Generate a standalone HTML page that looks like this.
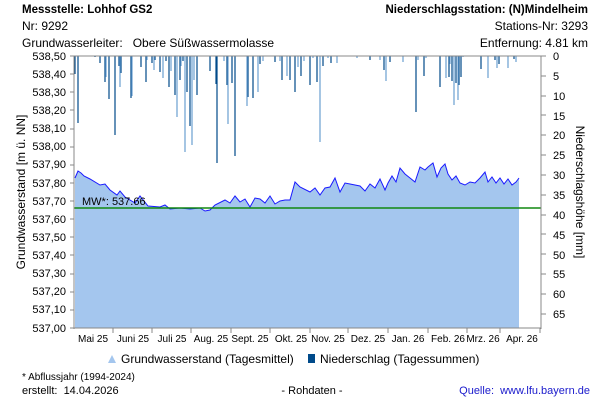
<!DOCTYPE html>
<html><head><meta charset="utf-8"><style>
body{margin:0;background:#fff}
svg{display:block;font-family:"Liberation Sans",sans-serif;font-size:12px}
</style></head><body>
<svg width="600" height="400" xmlns="http://www.w3.org/2000/svg">
<g font-size="12">
<text x="22" y="13" font-weight="bold" font-size="11.5">Messstelle: Lohhof GS2</text>
<text x="22" y="30">Nr: 9292</text>
<text x="22" y="47" style="white-space:pre">Grundwasserleiter:   Obere Süßwassermolasse</text>
<text x="588" y="13" text-anchor="end" font-weight="bold" font-size="11.5">Niederschlagsstation: (N)Mindelheim</text>
<text x="588" y="30" text-anchor="end">Stations-Nr: 3293</text>
<text x="588" y="47" text-anchor="end">Entfernung: 4.81 km</text>
</g>
<polygon fill="#a4c6ee" points="75,178 78,171 81,173 84,176 90,179 100,185 105,184 110,190 117,195 120,191 125,197 130,200 135,203 140,196 148,206 160,207 165,205 170,209 180,208 190,209 200,208 205,211 210,210 215,205 225,200 230,203 235,196 240,202 245,199 250,207 255,198 260,199 265,203 270,196 275,204 280,201 285,200 290,200 295,182 300,187 310,192 315,188 320,195 325,188 330,187 335,178 340,192 345,183 350,184 360,186 365,191 370,184 375,188 380,179 385,190 388,183 392,176 396,182 400,168 405,174 410,178 415,182 420,167 425,170 428,167 433,163 437,177 441,168 445,164 448,174 452,180 456,176 460,183 465,185 470,182 475,183 480,178 485,172 488,182 492,177 496,183 500,178 504,184 508,179 512,185 516,182 519,178 519,328 75,328"/>
<polyline fill="none" stroke="#1a1aff" stroke-width="1" points="75,178 78,171 81,173 84,176 90,179 100,185 105,184 110,190 117,195 120,191 125,197 130,200 135,203 140,196 148,206 160,207 165,205 170,209 180,208 190,209 200,208 205,211 210,210 215,205 225,200 230,203 235,196 240,202 245,199 250,207 255,198 260,199 265,203 270,196 275,204 280,201 285,200 290,200 295,182 300,187 310,192 315,188 320,195 325,188 330,187 335,178 340,192 345,183 350,184 360,186 365,191 370,184 375,188 380,179 385,190 388,183 392,176 396,182 400,168 405,174 410,178 415,182 420,167 425,170 428,167 433,163 437,177 441,168 445,164 448,174 452,180 456,176 460,183 465,185 470,182 475,183 480,178 485,172 488,182 492,177 496,183 500,178 504,184 508,179 512,185 516,182 519,178"/>
<line x1="74" y1="208" x2="541" y2="208" stroke="#118811" stroke-width="1.5"/>
<text x="82" y="205" font-size="11">MW*: 537.66</text>
<g stroke="#004a8a" stroke-width="1.2">
<path d="M75 56V74M78 56V123M95 56V57M100 56V63M105 56V82M109 56V99M115 56V135M119 56V66M121 56V73M131 56V98M141 56V67M146 56V82M152 56V63M155 56V60M160 56V72M166 56V61M169 56V87M175 56V95M180 56V80M183 56V61M187 56V92M190 56V126M197 56V95M210 56V71M216 56V84M217 56V163M227 56V85M232 56V83M235 56V156M248 56V97M253 56V98M260 56V64M275 56V62M282 56V80M290 56V80M295 56V92M301 56V76M310 56V85M317 56V82M323 56V66M331 56V63M370 56V60M384 56V70M390 56V62M416 56V112M424 56V76M440 56V87M449 56V77M452 56V81M456 56V83M459 56V85M461 56V77M481 56V69M495 56V60M499 56V64M514 56V59"/>
</g>
<g stroke="#6a9fd0" stroke-width="1.2">
<path d="M106 56V77M120 56V87M123 56V56M132 56V96M147 56V60M154 56V70M163 56V78M171 56V71M177 56V117M181 56V66M185 56V152M192 56V145M194 56V80M224 56V61M228 56V124M247 56V106M258 56V92M263 56V61M280 56V61M287 56V76M298 56V67M304 56V61M313 56V58M320 56V142M328 56V58M337 56V63M357 56V58M380 56V60M386 56V81M403 56V62M418 56V60M426 56V58M446 56V78M450 56V64M454 56V105M458 56V100M463 56V57M488 56V78M497 56V68M508 56V68M516 56V62"/>
</g>
<g stroke="#888" stroke-width="1" fill="none">
<line x1="74" y1="56" x2="541" y2="56"/>
<line x1="74" y1="56" x2="74" y2="329"/>
<line x1="541" y1="56" x2="541" y2="329"/>
<line x1="74" y1="328" x2="541" y2="328"/>
</g>
<g font-size="11">
<text x="66" y="60" text-anchor="end">538,50</text><text x="66" y="78" text-anchor="end">538,40</text><text x="66" y="96" text-anchor="end">538,30</text><text x="66" y="114" text-anchor="end">538,20</text><text x="66" y="132" text-anchor="end">538,10</text><text x="66" y="150" text-anchor="end">538,00</text><text x="66" y="168" text-anchor="end">537,90</text><text x="66" y="187" text-anchor="end">537,80</text><text x="66" y="205" text-anchor="end">537,70</text><text x="66" y="223" text-anchor="end">537,60</text><text x="66" y="241" text-anchor="end">537,50</text><text x="66" y="259" text-anchor="end">537,40</text><text x="66" y="277" text-anchor="end">537,30</text><text x="66" y="295" text-anchor="end">537,20</text><text x="66" y="313" text-anchor="end">537,10</text><text x="66" y="332" text-anchor="end">537,00</text>
<text x="553" y="60">0</text><text x="553" y="80">5</text><text x="553" y="100">10</text><text x="553" y="120">15</text><text x="553" y="139">20</text><text x="553" y="159">25</text><text x="553" y="179">30</text><text x="553" y="199">35</text><text x="553" y="219">40</text><text x="553" y="239">45</text><text x="553" y="259">50</text><text x="553" y="278">55</text><text x="553" y="298">60</text><text x="553" y="318">65</text>
</g>
<g stroke="#888"><path d="M70 56H74M70 74H74M70 92H74M70 110H74M70 129H74M70 147H74M70 165H74M70 183H74M70 201H74M70 219H74M70 237H74M70 255H74M70 274H74M70 292H74M70 310H74M70 328H74M541 56H546M541 76H546M541 96H546M541 115H546M541 135H546M541 155H546M541 175H546M541 195H546M541 215H546M541 234H546M541 254H546M541 274H546M541 294H546M541 314H546M113 328V333M152 328V333M191 328V333M231 328V333M270 328V333M310 328V333M348 328V333M388 328V333M428 328V333M467 328V333M500 328V333M540 328V333"/></g>
<g font-size="10" text-anchor="middle">
<text x="93" y="342">Mai 25</text><text x="133" y="342">Juni 25</text><text x="172" y="342">Juli 25</text><text x="211" y="342">Aug. 25</text><text x="250" y="342">Sept. 25</text><text x="291" y="342">Okt. 25</text><text x="328" y="342">Nov. 25</text><text x="368" y="342">Dez. 25</text><text x="408" y="342">Jan. 26</text><text x="448" y="342">Feb. 26</text><text x="483" y="342">Mrz. 26</text><text x="522" y="342">Apr. 26</text>
</g>
<text transform="translate(25,192) rotate(-90)" text-anchor="middle" font-size="12">Grundwasserstand [m ü. NN]</text>
<text transform="translate(576,192) rotate(90)" text-anchor="middle" font-size="12">Niederschlagshöhe [mm]</text>
<polygon points="108,363 112,355 116,363" fill="#a4c6ee"/>
<text x="121" y="363" font-size="12">Grundwasserstand (Tagesmittel)</text>
<rect x="308" y="354" width="7" height="9" fill="#004a8a"/>
<text x="320" y="363" font-size="12">Niederschlag (Tagessummen)</text>
<text x="22" y="380" font-size="10">* Abflussjahr (1994-2024)</text>
<text x="22" y="394" font-size="11" style="white-space:pre">erstellt:  14.04.2026</text>
<text x="312" y="394" font-size="11" text-anchor="middle">- Rohdaten -</text>
<text x="590" y="394" font-size="11" text-anchor="end" fill="#1a1acc" style="white-space:pre">Quelle:  www.lfu.bayern.de</text>
</svg>
</body></html>
